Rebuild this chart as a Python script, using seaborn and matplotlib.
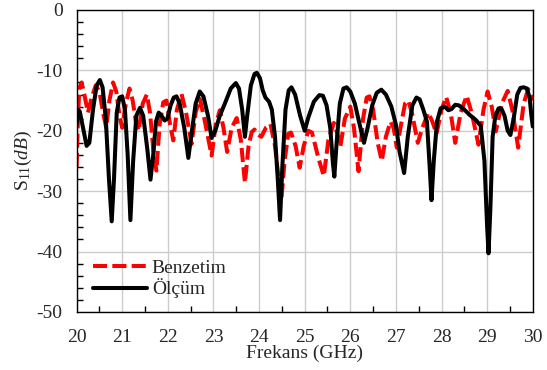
import numpy as np
import pandas as pd
import matplotlib
matplotlib.use("Agg")
import matplotlib.pyplot as plt
from matplotlib.ticker import MultipleLocator
import seaborn as sns

# Simulated S11 (Benzetim)
sim_freq = [20.00, 20.03, 20.06, 20.11, 20.17, 20.25, 20.33, 20.42, 20.50, 20.58,
            20.65, 20.72, 20.80, 20.87, 20.94, 21.00, 21.08, 21.16, 21.23, 21.30,
            21.36, 21.45, 21.54, 21.61, 21.68, 21.75, 21.82, 21.90, 21.97, 22.05,
            22.12, 22.20, 22.30, 22.40, 22.52, 22.61, 22.70, 22.80, 22.96, 23.05,
            23.14, 23.22, 23.30, 23.40, 23.51, 23.60, 23.69, 23.77, 23.84, 23.90,
            23.97, 24.05, 24.15, 24.25, 24.35, 24.43, 24.49, 24.56, 24.64, 24.70,
            24.80, 24.89, 24.98, 25.08, 25.16, 25.30, 25.42, 25.52, 25.64, 25.72,
            25.78, 25.88, 26.00, 26.08, 26.18, 26.28, 26.36, 26.42, 26.50, 26.60,
            26.69, 26.78, 26.88, 26.95, 27.02, 27.10, 27.20, 27.27, 27.35, 27.48,
            27.58, 27.71, 27.80, 27.89, 28.00, 28.10, 28.20, 28.30, 28.42, 28.55,
            28.66, 28.81, 28.92, 29.01, 29.10, 29.19, 29.32, 29.45, 29.55, 29.68,
            29.80, 29.90, 30.00]
sim_s11 = [-26.0, -18.0, -13.0, -12.0, -14.0, -17.0, -14.5, -12.5, -13.5, -17.0,
           -19.5, -15.0, -12.0, -13.5, -17.5, -19.5, -15.5, -13.0, -15.0, -18.5,
           -20.0, -15.5, -14.0, -17.0, -23.0, -26.6, -19.0, -15.3, -15.0, -19.0,
           -21.6, -16.5, -13.9, -17.0, -22.2, -17.0, -14.7, -18.0, -24.1, -19.0,
           -16.6, -19.5, -23.5, -19.5, -17.9, -21.5, -28.6, -22.5, -20.2, -19.8,
           -20.6, -21.0, -19.5, -18.9, -22.5, -28.0, -31.3, -25.0, -20.5, -20.3,
           -22.5, -26.1, -22.5, -20.0, -20.3, -24.5, -27.5, -21.5, -18.7, -20.5,
           -22.7, -18.0, -16.0, -19.5, -26.7, -18.0, -14.5, -14.3, -16.5, -22.0,
           -25.0, -21.0, -18.5, -19.5, -22.8, -19.5, -15.5, -15.0, -17.0, -22.0,
           -19.5, -17.0, -18.5, -20.5, -16.5, -14.4, -17.0, -22.0, -17.0, -14.2,
           -17.0, -22.3, -16.5, -13.5, -16.0, -20.1, -15.5, -13.4, -16.5, -22.8,
           -15.5, -13.1, -15.0]

# Measured S11 (Ölçüm)
meas_freq = [20.00, 20.03, 20.07, 20.14, 20.22, 20.28, 20.36, 20.44, 20.51, 20.57,
             20.64, 20.71, 20.77, 20.82, 20.88, 20.94, 21.00, 21.06, 21.12, 21.18,
             21.24, 21.31, 21.39, 21.46, 21.55, 21.62, 21.68, 21.74, 21.80, 21.86,
             21.93, 21.99, 22.06, 22.13, 22.19, 22.26, 22.36, 22.45, 22.52, 22.61,
             22.70, 22.78, 22.88, 22.96, 23.04, 23.14, 23.25, 23.38, 23.49, 23.56,
             23.63, 23.69, 23.74, 23.82, 23.90, 23.95, 24.02, 24.08, 24.14, 24.22,
             24.28, 24.35, 24.41, 24.46, 24.51, 24.58, 24.65, 24.71, 24.79, 24.90,
             25.00, 25.08, 25.20, 25.32, 25.40, 25.48, 25.56, 25.62, 25.65, 25.70,
             25.77, 25.85, 25.92, 26.00, 26.10, 26.20, 26.30, 26.38, 26.48, 26.58,
             26.68, 26.78, 26.90, 27.00, 27.08, 27.18, 27.26, 27.36, 27.45, 27.52,
             27.60, 27.68, 27.74, 27.78, 27.83, 27.90, 27.98, 28.07, 28.15, 28.22,
             28.30, 28.38, 28.50, 28.62, 28.75, 28.86, 28.94, 29.00, 29.03, 29.07,
             29.12, 29.18, 29.25, 29.31, 29.38, 29.45, 29.51, 29.58, 29.66, 29.73,
             29.80, 29.87, 29.93, 29.97, 30.00]
meas_s11 = [-19.0, -16.5, -16.8, -19.5, -22.5, -22.0, -16.5, -12.5, -11.6, -12.8,
            -18.0, -28.0, -35.0, -28.0, -17.0, -14.5, -14.3, -16.5, -24.0, -34.8,
            -25.0, -17.5, -16.2, -17.5, -23.0, -28.1, -24.0, -18.5, -17.0, -17.5,
            -18.3, -18.0, -15.8, -14.5, -14.3, -15.5, -19.5, -24.5, -20.5, -15.5,
            -13.5, -14.3, -17.5, -21.2, -20.0, -17.5, -15.5, -13.0, -12.1, -13.0,
            -16.5, -21.0, -17.5, -12.5, -10.6, -10.4, -11.3, -13.3, -14.5, -15.2,
            -16.5, -21.0, -28.0, -34.8, -26.0, -16.5, -13.3, -12.8, -14.0, -17.5,
            -20.0, -17.8, -15.2, -14.1, -14.2, -15.8, -19.5, -25.5, -27.6, -22.0,
            -15.5, -13.0, -12.8, -13.5, -15.5, -18.8, -22.0, -19.5, -15.8, -13.7,
            -13.2, -14.0, -16.0, -19.0, -23.5, -27.0, -21.0, -15.8, -14.5, -14.8,
            -16.5, -18.5, -26.0, -31.5, -25.0, -18.5, -16.3, -16.0, -16.6, -16.4,
            -15.7, -15.8, -16.5, -17.4, -18.2, -19.2, -25.0, -36.0, -40.3, -33.0,
            -21.0, -17.5, -16.3, -16.3, -17.5, -20.0, -20.7, -18.0, -14.0, -12.9,
            -12.8, -13.0, -14.5, -17.5, -19.3]

x_ticks = list(range(20, 31))
y_ticks = [0, -10, -20, -30, -40, -50]

sim = pd.DataFrame({"freq": sim_freq, "s11": sim_s11})
meas = pd.DataFrame({"freq": meas_freq, "s11": meas_s11})

sns.set_theme(style="white")
plt.rcParams["font.family"] = ["Liberation Serif", "DejaVu Serif"]
plt.rcParams["mathtext.fontset"] = "custom"
plt.rcParams["mathtext.rm"] = "Liberation Serif"
plt.rcParams["mathtext.it"] = "Liberation Serif:italic"
plt.rcParams["axes.unicode_minus"] = False

fig = plt.figure(figsize=(5.47, 3.70), dpi=100)
ax = fig.add_axes([0.140, 0.157, 0.834, 0.816])

ax.grid(True, which="major", color="#cccccc", linewidth=1.0)
ax.set_axisbelow(True)

sns.lineplot(data=sim, x="freq", y="s11", ax=ax, color="#ff0000",
             linewidth=2.9, linestyle=(0, (3.5, 1.3)), label="Benzetim",
             sort=False, estimator=None)
sns.lineplot(data=meas, x="freq", y="s11", ax=ax, color="black",
             linewidth=2.9, label="Ölçüm", sort=False, estimator=None)
for ln in ax.get_lines():
    ln.set_solid_joinstyle("round")
    ln.set_dash_joinstyle("round")

ax.set_xlim(20, 30)
ax.set_ylim(-50, 0)
ax.set_xticks(x_ticks)
ax.set_yticks(y_ticks)
ax.set_xticklabels([str(t) for t in x_ticks])
ax.set_yticklabels([str(t) for t in y_ticks])
ax.xaxis.set_minor_locator(MultipleLocator(0.5))
ax.yaxis.set_minor_locator(MultipleLocator(2))
ax.tick_params(which="major", length=0, labelsize=14)
ax.tick_params(axis="x", which="major", pad=12)
ax.tick_params(axis="y", which="major", pad=10)
ax.tick_params(which="minor", direction="in", length=4.5, width=1.0,
               color="black", bottom=True, left=True, top=False, right=False)
for sp in ax.spines.values():
    sp.set_color("black")
    sp.set_linewidth(1.0)

ax.set_xlabel("Frekans (GHz)", fontsize=14, labelpad=-1)
ax.set_ylabel(r"S$_{11}$($dB$)", fontsize=14, labelpad=2)

ax.legend(loc="lower left", bbox_to_anchor=(0.035, 0.045), frameon=False,
          fontsize=14, handlelength=2.8, handletextpad=0.25,
          labelspacing=0.1, borderaxespad=0.0, borderpad=0.0)

fig.savefig("out.png", dpi=100)
